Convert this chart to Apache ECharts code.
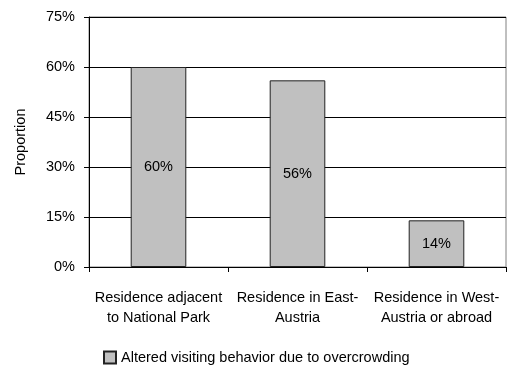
<!DOCTYPE html>
<html><head><meta charset="utf-8">
<script src="https://cdn.jsdelivr.net/npm/echarts@6/dist/echarts.min.js"></script>
<style>html,body{margin:0;padding:0;background:#fff}#c{width:507px;height:369px}</style>
</head><body><div id="c"></div>
<script>
const categories = ['Residence adjacent\nto National Park', 'Residence in East-\nAustria', 'Residence in West-\nAustria or abroad'];
const values = [60, 56, 14];
const seriesName = 'Altered visiting behavior due to overcrowding';
const yTicks = [0, 15, 30, 45, 60, 75];

const chart = echarts.init(document.getElementById('c'));
const font = 'Liberation Sans, Arial, sans-serif';
const fs = 14.5;
chart.setOption({
  animation: false,
  grid: { left: 89, right: 1, top: 17, bottom: 102, show: true, borderColor: '#808080', borderWidth: 1 },
  xAxis: {
    type: 'category', data: categories,
    axisLine: { lineStyle: { color: '#000', width: 1 } },
    axisTick: { show: true, length: 5, lineStyle: { color: '#000' } },
    axisLabel: { color: '#000', fontFamily: font, fontSize: fs, lineHeight: 20, margin: 21, interval: 0 }
  },
  yAxis: {
    type: 'value', min: yTicks[0], max: yTicks[yTicks.length - 1], interval: 15,
    name: 'Proportion', nameLocation: 'middle', nameGap: 61, nameRotate: 90,
    nameTextStyle: { color: '#000', fontFamily: font, fontSize: fs },
    axisLine: { show: true, lineStyle: { color: '#000' } },
    axisTick: { show: true, length: 5, lineStyle: { color: '#000' } },
    axisLabel: { color: '#000', fontFamily: font, fontSize: fs, margin: 14, formatter: v => v + '%' },
    splitLine: { show: true, lineStyle: { color: '#000', width: 1 } }
  },
  legend: {
    bottom: -1, left: 98, itemWidth: 12, itemHeight: 12,
    icon: 'rect',
    textStyle: { color: '#000', fontFamily: font, fontSize: fs },
    data: [seriesName]
  },
  series: [{
    name: seriesName, type: 'bar', data: values, barWidth: '40%',
    itemStyle: { color: '#c0c0c0', borderColor: '#222', borderWidth: 1 },
    label: { show: true, position: 'inside', color: '#000', fontFamily: font, fontSize: fs, formatter: p => p.value + '%' }
  }]
});
</script></body></html>
